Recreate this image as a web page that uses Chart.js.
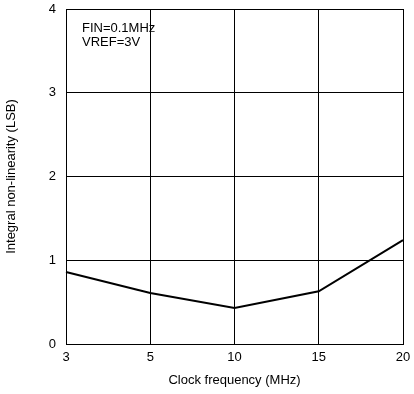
<!DOCTYPE html>
<html>
<head>
<meta charset="utf-8">
<script src="https://cdn.jsdelivr.net/npm/chart.js@4"></script>
<style>
  html, body { margin: 0; padding: 0; background: #fff; }
  #wrap { width: 414px; height: 394px; }
</style>
</head>
<body>
<div id="wrap"><canvas id="inlChart"></canvas></div>
<script>
// clock frequency (MHz) vs INL (LSB)
var clockFreqs = ['3', '5', '10', '15', '20'];
var inlValues = [0.86, 0.61, 0.43, 0.63, 1.24];
var yTicks = [0, 1, 2, 3, 4];
var noteLines = ['FIN=0.1MHz', 'VREF=3V'];

var fontFamily = '"Liberation Sans", Arial, sans-serif';

// draws the test conditions in the upper left of the plot
var notePlugin = {
    id: 'conditionNote',
    afterDraw: function(chart) {
        var c = chart.ctx;
        var area = chart.chartArea;
        c.save();
        c.fillStyle = '#000';
        c.font = '13px ' + fontFamily;
        c.textBaseline = 'middle';
        noteLines.forEach(function(line, i) {
            c.fillText(line, area.left + 16, area.top + 19 + i * 14);
        });
        c.restore();
    }
};

document.addEventListener('DOMContentLoaded', function() {
    var ctx = document.getElementById('inlChart').getContext('2d');
    new Chart(ctx, {
        type: 'line',
        data: {
            labels: clockFreqs,
            datasets: [{
                data: inlValues,
                borderColor: '#000',
                borderWidth: 2,
                pointRadius: 0,
                tension: 0,
                fill: false
            }]
        },
        options: {
            responsive: true,
            maintainAspectRatio: false,
            animation: false,
            layout: { padding: { top: 9, right: 11, left: 0, bottom: 0 } },
            plugins: {
                legend: { display: false },
                tooltip: { enabled: false }
            },
            scales: {
                x: {
                    offset: false,
                    grid: { color: '#000', lineWidth: 1, drawTicks: false },
                    border: { color: '#000', width: 1 },
                    ticks: { color: '#000', padding: 6, font: { family: fontFamily, size: 13 } },
                    title: {
                        display: true,
                        text: 'Clock frequency (MHz)',
                        color: '#000',
                        font: { family: fontFamily, size: 13 },
                        padding: { top: 4, bottom: 6 }
                    },
                    afterFit: function(scale) {
                        scale.height = 50;
                        scale.paddingLeft = 0;
                        scale.paddingRight = 0;
                    }
                },
                y: {
                    min: 0,
                    max: 4,
                    afterBuildTicks: function(scale) {
                        scale.ticks = yTicks.map(function(v) { return { value: v }; });
                    },
                    grid: { color: '#000', lineWidth: 1, drawTicks: false },
                    border: { color: '#000', width: 1 },
                    ticks: { color: '#000', padding: 10, font: { family: fontFamily, size: 13 } },
                    title: {
                        display: true,
                        text: 'Integral non-linearity (LSB)',
                        color: '#000',
                        font: { family: fontFamily, size: 13 },
                        padding: { top: 4, bottom: 4 }
                    },
                    afterFit: function(scale) {
                        scale.width = 66;
                        // let the top label sit above the plot edge without extra space
                        scale.paddingTop = 0;
                    }
                }
            }
        },
        plugins: [notePlugin]
    });
});
</script>
</body>
</html>
